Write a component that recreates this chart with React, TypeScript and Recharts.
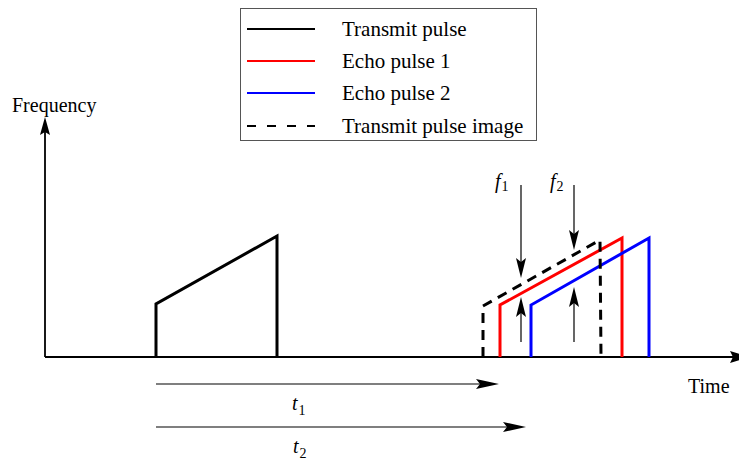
import React from 'react';
import { LineChart, Line, XAxis, YAxis, ReferenceLine, ReferenceDot, Legend } from 'recharts';

// ---- series (time in px-units from origin, frequency in px-units above the time axis)
const seriesNames = ['Transmit pulse', 'Echo pulse 1', 'Echo pulse 2', 'Transmit pulse image'];
const seriesColors = ['#000000', '#ff0000', '#0000ff', '#000000'];
const seriesDashes = ['', '', '', '10 7'];

const transmitTime = [111, 111, 232, 232];
const transmitFreq = [0, 53, 121, 0];
const echo1Time = [455, 455, 577, 577];
const echo1Freq = [0, 52, 119, 0];
const echo2Time = [486, 486, 604, 604];
const echo2Freq = [0, 52, 119, 0];
const imageTime = [438, 438, 555, 556];
const imageFreq = [0, 51, 117, 0];

// ---- annotation arrows: [x1, y1, x2, y2] in data units (arrow head at x2,y2)
const axisArrows = [
  [0, 0, 705, 0],     // time axis
  [0, 0, 0, 240],     // frequency axis
];
const delayArrows = [
  [111, -27, 454, -27], // t1
  [111, -70, 481, -70], // t2
];
const freqArrows = [
  [476, 172, 476, 79],  // f1 down
  [476, 15, 476, 60],   // f1 up
  [529, 172, 529, 107], // f2 down
  [529, 15, 529, 70],   // f2 up
];

// ---- text labels: [x, y, main, subscript, italic]
const labelTexts = ['Frequency', 'Time', 't', 't', 'f', 'f'];
const labelSubs = ['', '', '1', '2', '1', '2'];
const labelX = [-33, 643, 247, 248, 450, 505];
const labelY = [245, -36, -53, -96, 169, 169];
const labelItalic = [false, false, true, true, true, true];

const FONT = '"Liberation Serif", "Times New Roman", serif';

const zip = (ts: number[], fs: number[]) => ts.map((t, i) => ({ t, f: fs[i] }));
const seriesData = [
  zip(transmitTime, transmitFreq),
  zip(echo1Time, echo1Freq),
  zip(echo2Time, echo2Freq),
  zip(imageTime, imageFreq),
];

const makeArrow = (len: number, half: number, notch: number, sw: number) => (p: any) => {
  const { x1, y1, x2, y2 } = p;
  const dx = x2 - x1;
  const dy = y2 - y1;
  const d = Math.sqrt(dx * dx + dy * dy) || 1;
  const ux = dx / d;
  const uy = dy / d;
  const nx = -uy;
  const ny = ux;
  const bx = x2 - ux * len;
  const by = y2 - uy * len;
  const mx = x2 - ux * (len - notch);
  const my = y2 - uy * (len - notch);
  const pts = [
    [x2, y2],
    [bx + nx * half, by + ny * half],
    [mx, my],
    [bx - nx * half, by - ny * half],
  ]
    .map((q) => q.join(','))
    .join(' ');
  return (
    <g>
      <line x1={x1} y1={y1} x2={mx} y2={my} stroke="#000" strokeWidth={sw} />
      <polygon points={pts} fill="#000" stroke="none" />
    </g>
  );
};

const axisArrowShape = makeArrow(20, 6, 3, 1.8);
const yArrowShape = makeArrow(18, 5, 3, 1.8);
const delayArrowShape = makeArrow(23, 5, 4, 1.2);
const freqArrowShape = makeArrow(20, 5, 4, 1.2);

const makeLabel = (i: number) => (p: any) => (
  <text x={p.cx} y={p.cy} fontFamily={FONT} fontSize={20} fill="#000">
    <tspan fontStyle={labelItalic[i] ? 'italic' : 'normal'}>{labelTexts[i]}</tspan>
    {labelSubs[i] ? (
      <tspan fontSize={14} dy={labelItalic[i] && labelTexts[i] === 't' ? 5 : 3} dx={1}>
        {labelSubs[i]}
      </tspan>
    ) : null}
  </text>
);

const renderLegend = (props: any) => {
  const payload = (props.payload || [])
    .slice()
    .sort((a: any, b: any) => seriesNames.indexOf(a.value) - seriesNames.indexOf(b.value));
  const rowsY = [21, 53, 85, 118];
  return (
    <svg width={297} height={133} style={{ display: 'block' }}>
      <rect x={0.5} y={0.5} width={296} height={132} fill="#fff" stroke="#555" strokeWidth={1} />
      {payload.map((entry: any, i: number) => {
        const idx = seriesNames.indexOf(entry.value);
        const y = rowsY[i];
        return (
          <g key={entry.value}>
            <line
              x1={7}
              x2={75}
              y1={y}
              y2={y}
              stroke={entry.color}
              strokeWidth={2}
              strokeDasharray={seriesDashes[idx] ? '9 11' : undefined}
            />
            <text x={102} y={y + 7} fontFamily={FONT} fontSize={21} fill="#000">
              {entry.value}
            </text>
          </g>
        );
      })}
    </svg>
  );
};

export default function App() {
  return (
    <div style={{ position: 'absolute', left: 0, top: 0, background: '#fff' }}>
      <LineChart width={739} height={461} margin={{ top: 118, right: 4, bottom: 104, left: 45 }}>
        <XAxis type="number" dataKey="t" domain={[0, 690]} hide allowDataOverflow />
        <YAxis type="number" dataKey="f" domain={[0, 239]} hide allowDataOverflow />
        <Legend
          layout="vertical"
          align="center"
          verticalAlign="middle"
          content={renderLegend}
          wrapperStyle={{ left: 240, top: 8, width: 297, height: 133 }}
        />
        {axisArrows.map((a, i) => (
          <ReferenceLine
            key={'ax' + i}
            segment={[{ x: a[0], y: a[1] }, { x: a[2], y: a[3] }]}
            ifOverflow="visible"
            shape={i === 0 ? axisArrowShape : yArrowShape}
          />
        ))}
        {seriesData.map((d, i) => (
          <Line
            key={seriesNames[i]}
            data={d}
            dataKey="f"
            name={seriesNames[i]}
            type="linear"
            stroke={seriesColors[i]}
            strokeWidth={3}
            strokeDasharray={seriesDashes[i] || undefined}
            strokeLinejoin="miter"
            dot={false}
            activeDot={false}
            legendType="line"
            isAnimationActive={false}
          />
        ))}
        {delayArrows.map((a, i) => (
          <ReferenceLine
            key={'d' + i}
            segment={[{ x: a[0], y: a[1] }, { x: a[2], y: a[3] }]}
            ifOverflow="visible"
            shape={delayArrowShape}
          />
        ))}
        {freqArrows.map((a, i) => (
          <ReferenceLine
            key={'f' + i}
            segment={[{ x: a[0], y: a[1] }, { x: a[2], y: a[3] }]}
            ifOverflow="visible"
            shape={freqArrowShape}
          />
        ))}
        {labelTexts.map((_, i) => (
          <ReferenceDot
            key={'l' + i}
            x={labelX[i]}
            y={labelY[i]}
            r={0}
            ifOverflow="visible"
            shape={makeLabel(i)}
          />
        ))}
      </LineChart>
    </div>
  );
}
